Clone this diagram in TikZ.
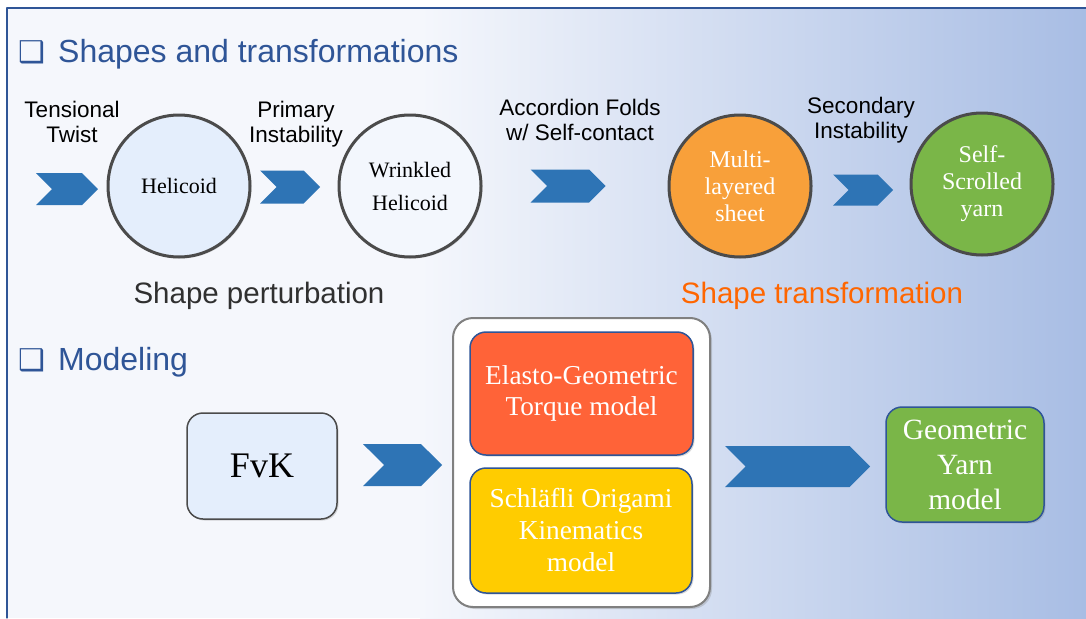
\documentclass[tikz,border=0pt]{standalone}
\usepackage{fontspec}
\setmainfont{Liberation Serif}
\newfontfamily\arial{Liberation Sans}
\newfontfamily\dejavu{DejaVu Sans}
\usetikzlibrary{shapes.symbols,shadows}

\definecolor{titleblue}{RGB}{47,85,151}
\definecolor{chevblue}{RGB}{46,116,181}
\definecolor{bgleft}{RGB}{245,247,252}
\definecolor{bgright}{RGB}{168,189,228}
\definecolor{ringgray}{RGB}{75,75,75}
\definecolor{helblue}{RGB}{228,238,252}
\definecolor{wrkblue}{RGB}{243,247,253}
\definecolor{sheetorange}{RGB}{248,160,58}
\definecolor{yarngreen}{RGB}{122,182,72}
\definecolor{torquered}{RGB}{255,99,56}
\definecolor{origamiyellow}{RGB}{255,204,0}
\definecolor{transorange}{RGB}{255,102,0}
\definecolor{darktext}{RGB}{48,48,48}

\tikzset{
  chev/.style={signal, signal from=west, signal to=east, fill=chevblue, draw=none, inner sep=0pt},
  bubble/.style={circle, draw=ringgray, line width=3pt, minimum size=142pt, inner sep=0pt, align=center,
    font=\fontsize{22}{33}\selectfont, drop shadow={opacity=0.25,shadow xshift=1.5pt,shadow yshift=-1.5pt}},
  lbl/.style={align=center, font=\arial\fontsize{22.5}{24.5}\selectfont},
  heading/.style={anchor=base west, text=titleblue, font=\arial\fontsize{32}{36}\selectfont, inner sep=0pt},
  tick/.style={anchor=base west, text=titleblue, font=\dejavu\fontsize{30}{32}\selectfont, inner sep=0pt},
  model/.style={rounded corners=16pt, line width=1.5pt, align=center, text=white,
    drop shadow={opacity=0.3,shadow xshift=1.5pt,shadow yshift=-1.5pt}},
}

\begin{document}
\begin{tikzpicture}[x=1pt,y=-1pt, line join=round, line cap=round]
\useasboundingbox (0,0) rectangle (1086,618);
% background
\fill[white] (0,0) rectangle (1086,618);
\fill[bgleft] (7,8) rectangle (420,618);
\shade[left color=bgleft, right color=bgright] (420,8) rectangle (1086,618);
\draw[titleblue, line width=1.2pt] (7,618) -- (7,8) -- (1086,8);

% headings
\node[tick] (tick1) at (18,63) {❑};
\node[heading] (shapes) at (58,63) {Shapes and transformations};
\node[tick] (tick2) at (18,370) {❑};
\node[heading] (modeling) at (58,370) {Modeling};

% shapes row
\node[chev, minimum width=62pt, minimum height=32pt] (twist) at (67,189) {};
\node[bubble, fill=helblue] (helicoid) at (179,186) {Helicoid};
\node[chev, minimum width=60pt, minimum height=33pt] (primary) at (290,187) {};
\node[bubble, fill=wrkblue] (wrinkled) at (410,186) {Wrinkled\\Helicoid};
\node[chev, minimum width=75pt, minimum height=33pt] (accordion) at (568,186) {};
\node[bubble, fill=sheetorange, text=white, font=\fontsize{24}{27}\selectfont] (sheet) at (740,186) {Multi-\\layered\\sheet};
\node[chev, minimum width=60pt, minimum height=31pt] (secondary) at (863,190) {};
\node[bubble, fill=yarngreen, text=white, font=\fontsize{24}{27}\selectfont] (yarn) at (982,184) {Self-\\Scrolled\\yarn};

\node[lbl] (twistlbl) at (72,122) {Tensional\\Twist};
\node[lbl] (primarylbl) at (296,124) {Primary\\Instability};
\node[lbl] (accordionlbl) at (580,120) {Accordion Folds\\w/ Self-contact};
\node[lbl] (secondarylbl) at (861,120) {Secondary\\Instability};

\node[font=\arial\fontsize{29.5}{32}\selectfont, text=darktext] (perturb) at (259,296) {Shape perturbation};
\node[font=\arial\fontsize{29.5}{32}\selectfont, text=transorange] (transform) at (822,296) {Shape transformation};

% modeling row
\node[draw=gray, fill=white, rounded corners=20pt, line width=2pt, minimum width=257pt, minimum height=289pt,
  drop shadow={opacity=0.3,shadow xshift=2pt,shadow yshift=-2pt}] (models) at (581.5,462.5) {};
\node[model, draw=titleblue, fill=torquered, minimum width=223pt, minimum height=123pt,
  font=\fontsize{27.3}{31}\selectfont] (torque) at (581.5,393.5) {Elasto-Geometric\\Torque model};
\node[model, draw=titleblue, fill=origamiyellow, minimum width=222pt, minimum height=125pt,
  font=\fontsize{27.3}{32}\selectfont] (origami) at (581,530.5) {Schläfli Origami\\Kinematics\\model};
\node[model, draw=ringgray, fill=helblue, text=black, minimum width=150pt, minimum height=106pt,
  font=\fontsize{36}{40}\selectfont] (fvk) at (262,466) {FvK};
\node[model, draw=titleblue, fill=yarngreen, minimum width=158pt, minimum height=115pt,
  font=\fontsize{29.4}{35}\selectfont] (geoyarn) at (965,464.5) {Geometric\\Yarn\\model};
\node[chev, minimum width=79pt, minimum height=42pt] (tomodels) at (402.5,465) {};
\node[chev, minimum width=145pt, minimum height=41pt] (toyarn) at (797.5,466.5) {};
\end{tikzpicture}
\end{document}
